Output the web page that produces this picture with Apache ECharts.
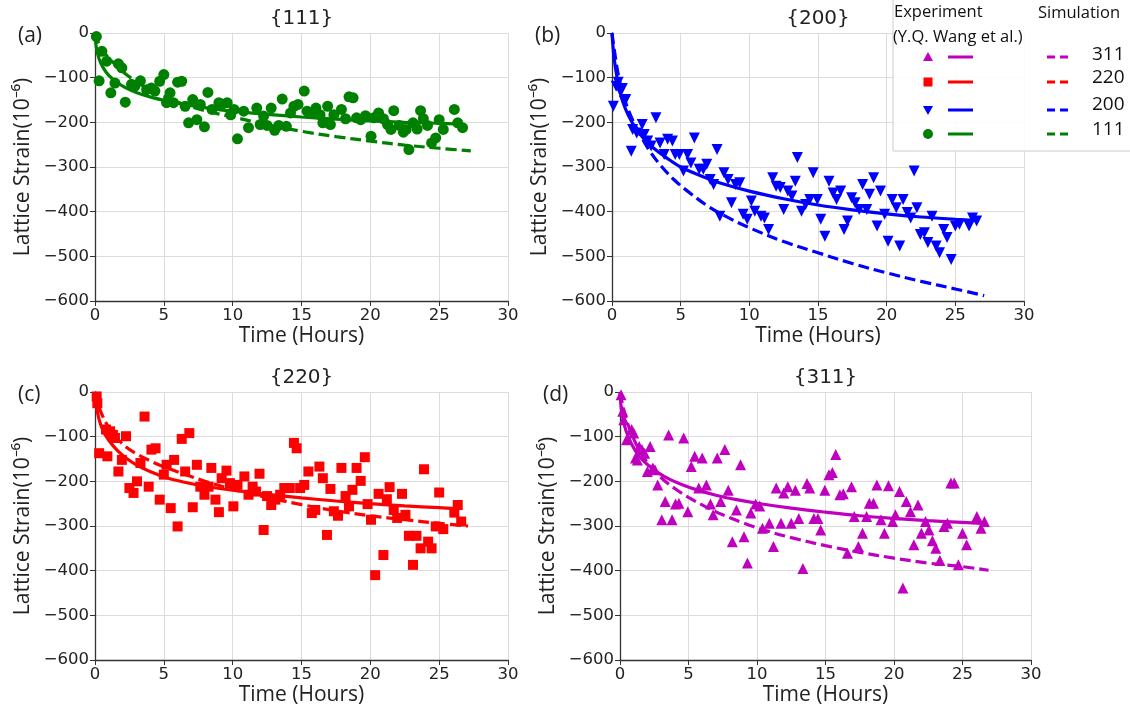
<!DOCTYPE html>
<html>
<head>
<meta charset="utf-8">
<script src="https://cdn.jsdelivr.net/npm/echarts@6/dist/echarts.min.js"></script>
<style>
html,body{margin:0;padding:0;background:#fff;}
#chart{width:1130px;height:713px;}
</style>
</head>
<body>
<div id="chart"></div>
<script>
// ---------------- DATA ----------------
const panelTitles = ['{111}', '{200}', '{220}', '{311}'];
const panelLetters = ['(a)', '(b)', '(c)', '(d)'];
const legendLabels = ['311', '220', '200', '111'];
const xTicks = [0, 5, 10, 15, 20, 25, 30];
const yTicks = [0, -100, -200, -300, -400, -500, -600];

// {111} experiment (green circles)
const exp111 = [[0.1,-8],[0.3,-107],[0.5,-41],[0.85,-63],[1.15,-134],[1.45,-112],[1.7,-69],[1.95,-78],[2.2,-155],[2.65,-115],
[2.9,-119],[3.3,-107],[3.75,-127],[4.1,-123],[4.35,-130],[4.7,-108],[5.0,-93],[5.2,-156],[5.45,-134],[5.7,-156],
[6.0,-110],[6.3,-108],[6.55,-164],[6.8,-201],[7.1,-149],[7.4,-194],[7.65,-160],[7.95,-210],[8.2,-133],[8.5,-171],
[9.0,-156],[9.2,-160],[9.6,-156],[9.85,-183],[10.1,-171],[10.35,-237],[10.8,-175],[11.15,-212],[11.75,-168],[12.0,-205],
[12.25,-186],[12.5,-207],[12.8,-168],[13.05,-218],[13.35,-207],[13.6,-148],[13.9,-209],[14.2,-179],[14.45,-164],[14.75,-160],
[15.2,-130],[15.4,-175],[15.8,-179],[16.05,-168],[16.35,-183],[16.55,-201],[16.9,-164],[17.1,-205],[17.35,-183],[17.9,-171],
[18.2,-192],[18.45,-143],[18.75,-145],[19.0,-190],[19.3,-194],[19.65,-185],[20.05,-231],[20.25,-190],[20.6,-179],[20.95,-192],
[21.25,-205],[21.5,-216],[21.7,-174],[22.1,-207],[22.4,-222],[22.6,-216],[22.8,-261],[23.1,-201],[23.4,-215],[23.65,-174],
[23.85,-192],[24.15,-207],[24.45,-246],[24.75,-235],[25.0,-194],[25.3,-216],[26.1,-171],[26.35,-201],[26.7,-212]];
const fit111 = [[0,0],[0.1,-33],[0.3,-58],[0.6,-78],[1.0,-95],[1.6,-111],[2.2,-122],[3,-133],[4,-143],[5.2,-152],
[6.5,-160],[8,-167],[10,-175],[12.5,-182],[15,-188],[17.5,-193],[20,-197],[22.5,-200],[25,-202],[26.6,-204]];
const sim111 = [[0,0],[0.2,-18],[0.5,-36],[1,-56],[1.5,-71],[2,-86],[3,-109],[4,-127],[5.2,-144],[6.5,-160],
[8,-174],[10,-188],[12.5,-205],[15,-220],[17.5,-232],[20,-242],[22.5,-251],[25,-258],[27.3,-264]];

// {200} experiment (blue down-triangles)
const exp200 = [[0.1,-164],[0.3,-119],[0.45,-110],[0.6,-130],[0.75,-124],[0.9,-153],[1.0,-149],[1.4,-265],[1.5,-216],[1.8,-224],
[2.2,-205],[2.35,-227],[2.6,-242],[2.85,-253],[3.2,-190],[3.5,-246],[3.8,-272],[4.05,-238],[4.4,-242],[4.6,-272],
[4.9,-272],[5.2,-309],[5.5,-272],[5.75,-291],[6.0,-235],[6.35,-305],[6.65,-305],[6.9,-294],[7.15,-328],[7.4,-339],
[7.65,-261],[7.85,-410],[8.15,-313],[8.45,-328],[8.7,-380],[9.0,-339],[9.3,-335],[9.55,-406],[9.85,-417],[10.15,-376],
[10.4,-399],[10.85,-410],[11.1,-414],[11.4,-440],[11.7,-324],[11.95,-343],[12.25,-346],[12.5,-395],[12.8,-354],[13.1,-365],
[13.35,-332],[13.5,-279],[13.8,-399],[14.1,-384],[14.4,-373],[14.65,-313],[14.95,-373],[15.2,-417],[15.5,-455],[15.8,-332],
[16.1,-358],[16.35,-373],[16.65,-354],[16.9,-440],[17.15,-421],[17.45,-369],[17.7,-380],[18.0,-395],[18.25,-339],[18.55,-395],
[18.75,-361],[19.05,-324],[19.3,-432],[19.55,-354],[19.85,-406],[20.1,-466],[20.4,-373],[20.7,-391],[20.95,-477],[21.2,-373],
[21.5,-402],[21.75,-414],[22.0,-309],[22.2,-391],[22.45,-451],[22.75,-447],[23.0,-469],[23.3,-410],[23.6,-477],[23.85,-492],
[24.15,-440],[24.4,-458],[24.7,-507],[25.0,-432],[25.3,-428],[26.0,-432],[26.25,-414],[26.55,-421]];
const fit200 = [[0,0],[0.1,-40],[0.25,-78],[0.5,-120],[0.8,-155],[1.2,-185],[1.7,-212],[2.3,-236],[3,-257],[4,-280],
[5,-300],[6.5,-320],[8,-337],[10,-354],[12.5,-371],[15,-385],[17.5,-396],[20,-405],[22.5,-412],[25,-417],[26.7,-420]];
const sim200 = [[0,0],[0.2,-45],[0.5,-100],[0.9,-147],[1.4,-188],[2,-225],[2.7,-262],[3.5,-295],[4.5,-328],[5.5,-354],
[7,-388],[8.5,-414],[10,-436],[12.5,-467],[15,-492],[17.5,-516],[20,-537],[22.5,-556],[25,-573],[27.1,-588]];

// {220} experiment (red squares)
const exp220 = [[0.12,-10],[0.17,-25],[0.3,-137],[0.8,-84],[0.9,-144],[1.1,-88],[1.3,-96],[1.45,-103],[1.7,-178],[1.95,-152],
[2.25,-99],[2.5,-215],[2.8,-226],[3.05,-200],[3.3,-159],[3.6,-55],[3.9,-212],[4.1,-129],[4.4,-126],[4.7,-241],
[5.0,-185],[5.2,-163],[5.5,-260],[5.75,-152],[6.0,-301],[6.3,-105],[6.55,-178],[6.85,-92],[7.1,-258],[7.4,-163],
[7.65,-212],[7.95,-230],[8.25,-212],[8.45,-170],[8.75,-241],[9.0,-269],[9.2,-193],[9.55,-176],[9.8,-204],[10.05,-256],
[10.35,-208],[10.85,-189],[11.15,-230],[11.45,-212],[11.7,-223],[11.95,-183],[12.25,-309],[12.5,-233],[12.8,-253],[13.1,-241],
[13.45,-230],[13.75,-215],[14.15,-215],[14.45,-114],[14.65,-126],[14.9,-215],[15.2,-208],[15.5,-178],[15.75,-271],[16.0,-264],
[16.3,-167],[16.55,-193],[16.85,-320],[17.1,-217],[17.35,-267],[17.65,-277],[17.9,-170],[18.2,-233],[18.45,-256],[18.7,-219],
[19.0,-170],[19.3,-199],[19.6,-146],[19.8,-251],[20.05,-286],[20.35,-410],[20.6,-228],[20.95,-365],[21.2,-240],[21.4,-213],
[21.7,-264],[21.95,-282],[22.3,-228],[22.55,-275],[22.8,-322],[23.1,-387],[23.35,-322],[23.65,-350],[23.9,-173],[24.2,-335],
[24.45,-350],[24.75,-301],[25.0,-225],[25.3,-307],[26.1,-270],[26.35,-253],[26.6,-290]];
const fit220 = [[0,0],[0.1,-30],[0.3,-62],[0.6,-88],[1,-108],[1.6,-130],[2.3,-149],[3,-163],[4,-178],[5.2,-192],
[6.5,-202],[8,-211],[10,-220],[12.5,-229],[15,-237],[17.5,-244],[20,-250],[22.5,-255],[25,-259],[26.4,-261]];
const sim220 = [[0,0],[0.2,-25],[0.5,-50],[1,-80],[1.5,-100],[2.2,-122],[3,-138],[4,-154],[5.2,-170],[6.5,-184],
[8,-200],[10,-218],[12.5,-236],[15,-252],[17.5,-266],[20,-277],[22.5,-286],[25,-294],[27.1,-300]];

// {311} experiment (magenta triangles)
const exp311 = [[0.08,-6],[0.2,-43],[0.28,-62],[0.48,-107],[0.85,-84],[1.0,-92],[1.13,-148],[1.27,-152],[1.4,-122],[1.6,-129],
[1.8,-137],[2.0,-178],[2.2,-122],[2.4,-170],[2.55,-174],[2.75,-208],[3.05,-286],[3.3,-245],[3.55,-96],[3.8,-286],
[4.05,-251],[4.3,-249],[4.65,-103],[4.95,-268],[5.2,-167],[5.45,-144],[5.75,-215],[6.0,-148],[6.3,-208],[6.6,-251],
[6.8,-275],[7.1,-148],[7.35,-245],[7.65,-129],[7.9,-220],[8.2,-335],[8.5,-264],[8.8,-163],[9.05,-324],[9.3,-383],
[9.55,-271],[9.9,-251],[10.2,-255],[10.4,-305],[10.9,-294],[11.2,-346],[11.4,-215],[11.75,-294],[11.95,-226],[12.25,-212],
[12.5,-294],[12.8,-220],[13.05,-283],[13.35,-395],[13.65,-205],[13.85,-215],[14.15,-283],[14.45,-283],[14.65,-309],[14.95,-220],
[15.25,-185],[15.5,-180],[15.75,-140],[16.05,-230],[16.3,-228],[16.6,-361],[16.9,-212],[17.1,-279],[17.4,-346],[17.7,-316],
[18.0,-279],[18.2,-249],[18.5,-249],[18.75,-208],[19.05,-286],[19.3,-316],[19.6,-210],[19.9,-290],[20.1,-275],[20.4,-223],
[20.65,-439],[20.9,-245],[21.2,-268],[21.45,-342],[21.75,-253],[22.0,-316],[22.3,-290],[22.55,-309],[22.8,-333],[23.05,-350],
[23.35,-377],[23.65,-301],[23.9,-294],[24.15,-204],[24.4,-204],[24.7,-387],[25.0,-316],[25.3,-342],[26.05,-279],[26.35,-305],
[26.6,-290]];
const fit311 = [[0,0],[0.1,-38],[0.3,-72],[0.6,-100],[1,-125],[1.5,-147],[2.1,-165],[2.8,-181],[3.6,-195],[4.5,-207],
[5.5,-218],[7,-231],[8.5,-241],[10,-249],[12.5,-260],[15,-269],[17.5,-277],[20,-283],[22.5,-288],[25,-292],[26.7,-295]];
const sim311 = [[0,0],[0.2,-30],[0.5,-65],[1,-105],[1.5,-135],[2.2,-166],[3,-192],[4,-216],[5,-236],[6.2,-256],
[7.5,-275],[9,-293],[10.5,-309],[12.5,-326],[15,-344],[17.5,-359],[20,-372],[22.5,-383],[25,-391],[26.9,-399]];

// ---------------- STYLE / LAYOUT ----------------
const GREEN = '#008000', BLUE = '#0000ff', RED = '#ff0000', MAG = '#bf00bf';
const panels = [
  {exp: exp111, fit: fit111, sim: sim111, color: GREEN, symbol: 'circle', size: 11, rot: 0,
   grid: {left: 95, top: 33, width: 413, height: 268}, title: panelTitles[0], letter: panelLetters[0]},
  {exp: exp200, fit: fit200, sim: sim200, color: BLUE, symbol: 'triangle', size: 11, rot: 180,
   grid: {left: 612, top: 33, width: 412, height: 268}, title: panelTitles[1], letter: panelLetters[1]},
  {exp: exp220, fit: fit220, sim: sim220, color: RED, symbol: 'rect', size: 10, rot: 0,
   grid: {left: 95, top: 392, width: 413, height: 268}, title: panelTitles[2], letter: panelLetters[2]},
  {exp: exp311, fit: fit311, sim: sim311, color: MAG, symbol: 'triangle', size: 11, rot: 0,
   grid: {left: 620, top: 392, width: 411, height: 268}, title: panelTitles[3], letter: panelLetters[3]}
];

const TICKFONT = 'DejaVu Sans';
const TEXTFONT = 'Open Sans';
const AXCOL = '#333';
const minusFmt = v => (v < 0 ? '\u2212' + Math.abs(v) : String(v));

const grids = [], xAxes = [], yAxes = [], series = [], graphics = [];
panels.forEach((p, i) => {
  grids.push(Object.assign({containLabel: false}, p.grid));
  xAxes.push({
    gridIndex: i, type: 'value', min: xTicks[0], max: xTicks[xTicks.length - 1], interval: xTicks[1] - xTicks[0],
    name: 'Time (Hours)', nameLocation: 'middle', nameGap: 25,
    nameTextStyle: {fontFamily: TEXTFONT, fontSize: 21, color: '#222'},
    axisLine: {show: true, onZero: false, lineStyle: {color: AXCOL, width: 1.3}},
    axisTick: {show: true, inside: false, length: 5, lineStyle: {color: AXCOL}},
    axisLabel: {fontFamily: TICKFONT, fontSize: 16.5, color: '#222', margin: 6, formatter: minusFmt},
    splitLine: {show: true, lineStyle: {color: '#dcdcdc', width: 1}}
  });
  yAxes.push({
    gridIndex: i, type: 'value', min: yTicks[yTicks.length - 1], max: yTicks[0], interval: yTicks[0] - yTicks[1],
    name: 'Lattice Strain(10\u207B\u2076)', nameLocation: 'middle', nameGap: 61, nameRotate: 90,
    nameTextStyle: {fontFamily: TEXTFONT, fontSize: 21, color: '#222'},
    axisLine: {show: true, onZero: false, lineStyle: {color: AXCOL, width: 1.3}},
    axisTick: {show: true, inside: false, length: 5, lineStyle: {color: AXCOL}},
    axisLabel: {fontFamily: TICKFONT, fontSize: 16.5, color: '#222', margin: 6, formatter: minusFmt},
    splitLine: {show: true, lineStyle: {color: '#dcdcdc', width: 1}}
  });
  series.push({
    type: 'scatter', xAxisIndex: i, yAxisIndex: i, data: p.exp,
    symbol: p.symbol, symbolSize: p.size, symbolRotate: p.rot,
    itemStyle: {color: p.color, opacity: 1}, z: 2, silent: true
  });
  series.push({
    type: 'line', xAxisIndex: i, yAxisIndex: i, data: p.fit, showSymbol: false, symbol: 'none',
    smooth: 0.35,
    lineStyle: {color: p.color, width: 3.2}, z: 3, silent: true
  });
  series.push({
    type: 'line', xAxisIndex: i, yAxisIndex: i, data: p.sim, showSymbol: false, symbol: 'none',
    smooth: 0.35,
    lineStyle: {color: p.color, width: 3.2, type: [11, 5]}, z: 3, silent: true
  });
  graphics.push({
    type: 'text', z: 50, style: {
      text: p.title, x: p.grid.left + p.grid.width / 2, y: p.grid.top - 14,
      textAlign: 'center', textVerticalAlign: 'middle', fontFamily: TICKFONT, fontSize: 20, fill: '#222'
    }
  });
  graphics.push({
    type: 'text', z: 50, style: {
      text: p.letter, x: p.grid.left - 77, y: p.grid.top + 3,
      textAlign: 'left', textVerticalAlign: 'middle', fontFamily: TEXTFONT, fontSize: 21, fill: '#222'
    }
  });
});

// ---------------- LEGEND (graphic) ----------------
const legendColors = [MAG, RED, BLUE, GREEN];
const legendSymbols = ['tri', 'rect', 'tridown', 'circle'];
const rowY = [57, 82, 110, 134];
const numY = [55, 78, 105, 130];
graphics.push({type: 'rect', z: 60, shape: {x: 893, y: -2, width: 260, height: 153},
  style: {fill: 'rgba(255,255,255,0.88)', stroke: '#cccccc', lineWidth: 1}});
graphics.push({type: 'text', z: 61, style: {text: 'Experiment', x: 894, y: 12, textVerticalAlign: 'middle',
  fontFamily: TEXTFONT, fontSize: 16.5, fill: '#111'}});
graphics.push({type: 'text', z: 61, style: {text: '(Y.Q. Wang et al.)', x: 893, y: 37, textVerticalAlign: 'middle',
  fontFamily: TEXTFONT, fontSize: 16.5, fill: '#111'}});
graphics.push({type: 'text', z: 61, style: {text: 'Simulation', x: 1038, y: 13, textVerticalAlign: 'middle',
  fontFamily: TEXTFONT, fontSize: 16.5, fill: '#111'}});
legendLabels.forEach((lab, k) => {
  const c = legendColors[k], y = rowY[k], cx = 928;
  let sym;
  if (legendSymbols[k] === 'tri') sym = {type: 'polygon', shape: {points: [[cx, y - 5], [cx + 5, y + 4], [cx - 5, y + 4]]}};
  else if (legendSymbols[k] === 'tridown') sym = {type: 'polygon', shape: {points: [[cx - 5, y - 4], [cx + 5, y - 4], [cx, y + 5]]}};
  else if (legendSymbols[k] === 'rect') sym = {type: 'rect', shape: {x: cx - 4.5, y: y - 4.5, width: 9, height: 9}};
  else sym = {type: 'circle', shape: {cx: cx, cy: y, r: 5}};
  sym.z = 62; sym.style = {fill: c};
  graphics.push(sym);
  graphics.push({type: 'line', z: 62, shape: {x1: 948, y1: y, x2: 973, y2: y}, style: {stroke: c, lineWidth: 3}});
  graphics.push({type: 'line', z: 62, shape: {x1: 1047, y1: y, x2: 1068, y2: y},
    style: {stroke: c, lineWidth: 3, lineDash: [8, 5]}});
  graphics.push({type: 'text', z: 62, style: {text: lab, x: 1092, y: numY[k], textVerticalAlign: 'middle',
    fontFamily: TEXTFONT, fontSize: 19, fill: '#111'}});
});

const chart = echarts.init(document.getElementById('chart'), null, {renderer: 'canvas'});
chart.setOption({
  animation: false,
  backgroundColor: '#ffffff',
  grid: grids, xAxis: xAxes, yAxis: yAxes, series: series,
  graphic: graphics
});
</script>
</body>
</html>
